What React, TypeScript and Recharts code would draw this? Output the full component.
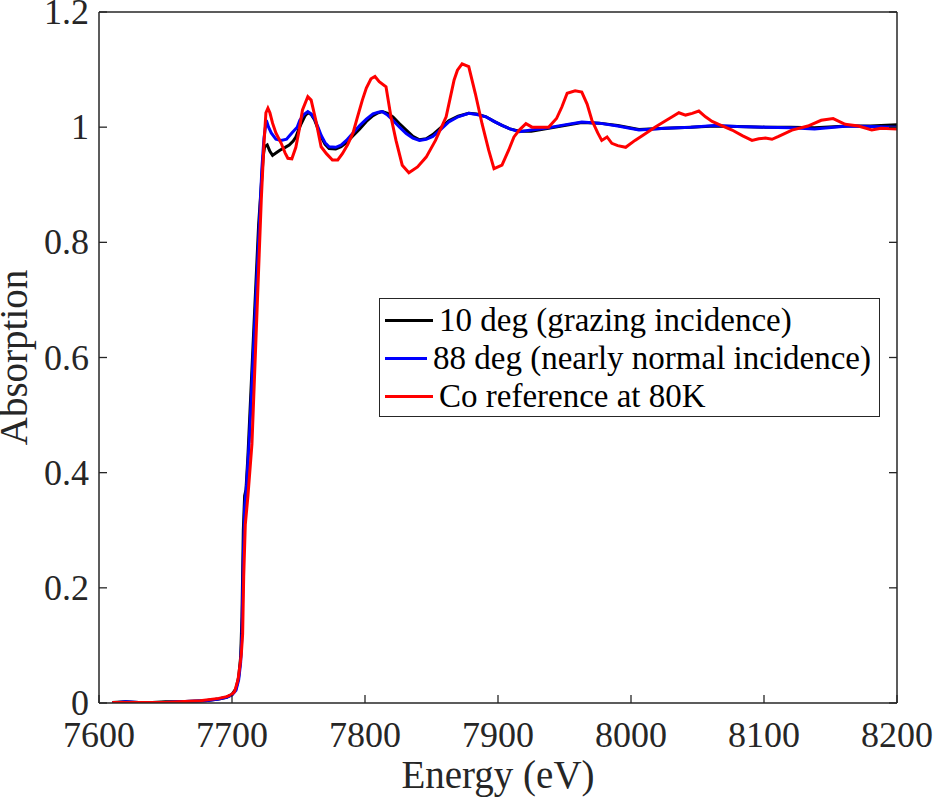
import React from 'react';
import { LineChart, Line, XAxis, YAxis, Legend, Label } from 'recharts';

const energyTicks = [7600, 7700, 7800, 7900, 8000, 8100, 8200];
const absorptionTicks = [0, 0.2, 0.4, 0.6, 0.8, 1, 1.2];

// [energy (eV), absorption]
const grazing10: [number, number][] = [
  [7610, 0.001], [7620, 0.002], [7630, 0.001], [7640, 0.001], [7650, 0.002], [7660, 0.002],
  [7670, 0.003], [7680, 0.004], [7690, 0.007], [7696, 0.01], [7700, 0.015], [7703, 0.025],
  [7705, 0.045], [7706.5, 0.08], [7707.5, 0.15], [7708.5, 0.3], [7709.5, 0.36], [7710.5, 0.37],
  [7712, 0.43], [7716, 0.63], [7720, 0.83], [7723.5, 0.95], [7724.5, 0.966], [7726.5, 0.969],
  [7728.5, 0.958], [7730.5, 0.951], [7733, 0.955], [7736, 0.96], [7740, 0.965], [7743, 0.969],
  [7746, 0.976], [7748, 0.983], [7750, 0.995], [7752, 1.006], [7755, 1.02], [7757, 1.025],
  [7759.5, 1.022], [7762, 1.013], [7765, 0.995], [7767, 0.983], [7770, 0.97], [7773, 0.963],
  [7778, 0.962], [7782, 0.966], [7786, 0.973], [7791, 0.985], [7796, 0.997], [7801, 1.01],
  [7806, 1.02], [7810, 1.025], [7813, 1.027], [7817, 1.024], [7821, 1.018], [7826, 1.006],
  [7831, 0.995], [7836, 0.984], [7841, 0.978], [7846, 0.98], [7851, 0.987], [7857, 0.999],
  [7863, 1.011], [7870, 1.019], [7878, 1.024], [7884, 1.023], [7891, 1.018], [7897, 1.01],
  [7903, 1.003], [7909, 0.997], [7916, 0.993], [7925, 0.993], [7938, 0.998], [7950, 1.003],
  [7963, 1.008], [7976, 1.007], [7990, 1.003], [8006, 0.996], [8026, 0.998], [8045, 1.0],
  [8063, 1.002], [8080, 1.001], [8101, 1.0], [8120, 1.0], [8138, 0.999], [8163, 1.002],
  [8180, 1.002], [8200, 1.004],
];

const normal88: [number, number][] = [
  [7610, 0.0], [7620, 0.002], [7630, 0.001], [7640, 0.001], [7650, 0.001], [7660, 0.002],
  [7670, 0.003], [7680, 0.004], [7690, 0.007], [7696, 0.01], [7700, 0.014], [7703, 0.022],
  [7705, 0.04], [7706.5, 0.07], [7707.5, 0.12], [7708.5, 0.25], [7709.5, 0.34], [7711, 0.38],
  [7713, 0.457], [7720.8, 0.844], [7722.5, 0.93], [7724, 0.98], [7725.8, 1.012], [7727.5, 1.0],
  [7729.5, 0.99], [7733, 0.979], [7737, 0.977], [7741, 0.979], [7745, 0.99], [7749, 1.0],
  [7751, 1.012], [7754, 1.022], [7757, 1.027], [7759.5, 1.023], [7762, 1.015], [7765, 0.998],
  [7767, 0.986], [7770, 0.973], [7773, 0.966], [7778, 0.965], [7782, 0.969], [7786, 0.977],
  [7791, 0.99], [7796, 1.003], [7801, 1.014], [7806, 1.023], [7810, 1.026], [7813, 1.027],
  [7817, 1.021], [7821, 1.012], [7826, 1.0], [7831, 0.989], [7836, 0.981], [7841, 0.977],
  [7846, 0.979], [7851, 0.984], [7857, 0.996], [7863, 1.009], [7870, 1.018], [7878, 1.024],
  [7884, 1.022], [7891, 1.018], [7897, 1.01], [7903, 1.003], [7909, 0.997], [7916, 0.992],
  [7925, 0.995], [7938, 0.999], [7950, 1.004], [7963, 1.009], [7976, 1.007], [7990, 1.002],
  [8006, 0.995], [8026, 0.998], [8045, 1.0], [8063, 1.003], [8080, 1.001], [8101, 1.0],
  [8120, 0.999], [8138, 0.997], [8163, 1.002], [8180, 1.001], [8200, 1.0],
];

const coRef80K: [number, number][] = [
  [7610, 0.001], [7630, 0.001], [7650, 0.001], [7660, 0.002], [7676, 0.004], [7690, 0.008],
  [7696, 0.011], [7700, 0.015], [7702, 0.02], [7704.5, 0.04], [7706, 0.065], [7707, 0.085],
  [7708, 0.12], [7708.8, 0.22], [7710, 0.31], [7712, 0.36], [7715, 0.45], [7722, 0.873],
  [7724, 0.97], [7725.5, 1.025], [7727, 1.033], [7728.5, 1.025], [7730.5, 1.007], [7733, 0.99],
  [7737, 0.972], [7740, 0.955], [7742, 0.946], [7745, 0.945], [7748, 0.965], [7750.5, 0.995],
  [7753, 1.03], [7757, 1.053], [7759.5, 1.047], [7763, 1.012], [7767, 0.966], [7771, 0.954],
  [7775.5, 0.943], [7779.5, 0.943], [7783, 0.954], [7787, 0.97], [7791, 0.99], [7794, 1.015],
  [7798, 1.047], [7801, 1.068], [7804.5, 1.084], [7807.5, 1.088], [7810.7, 1.079], [7815.8, 1.07],
  [7819.5, 1.018], [7823.3, 0.977], [7828, 0.934], [7833, 0.921], [7839.5, 0.931], [7846, 0.948],
  [7853, 0.977], [7861, 1.018], [7864, 1.05], [7867, 1.082], [7869.5, 1.099], [7873, 1.11],
  [7878, 1.105], [7883, 1.058], [7888, 1.006], [7893, 0.96], [7897, 0.928], [7903, 0.934],
  [7908, 0.96], [7912, 0.983], [7916, 0.995], [7921, 1.006], [7925.6, 1.0], [7932, 1.0],
  [7938, 1.0], [7944, 1.015], [7948, 1.035], [7952, 1.059], [7958, 1.063], [7963, 1.061],
  [7967, 1.04], [7970.6, 1.012], [7975, 0.99], [7978, 0.977], [7982, 0.983], [7985.6, 0.972],
  [7990, 0.968], [7996, 0.965], [8003, 0.977], [8011, 0.989], [8018, 1.0], [8026, 1.011],
  [8031, 1.018], [8036, 1.025], [8041, 1.021], [8046, 1.024], [8051, 1.028], [8056, 1.018],
  [8061, 1.01], [8066, 1.005], [8076, 0.995], [8084, 0.985], [8091, 0.977], [8096, 0.98],
  [8101, 0.981], [8106, 0.979], [8111, 0.984], [8121, 0.995], [8133, 1.002], [8143, 1.012],
  [8152, 1.015], [8161, 1.005], [8171, 1.002], [8181, 0.995], [8188, 0.998], [8200, 0.997],
];

const series = [
  { name: '10 deg (grazing incidence)', color: '#000000', points: grazing10 },
  { name: '88 deg (nearly normal incidence)', color: '#0000ff', points: normal88 },
  { name: 'Co reference at 80K', color: '#ff0000', points: coRef80K },
];

const FONT = '"Liberation Serif", "Times New Roman", serif';
const AXIS = '#262626';
const TICK_LEN = 8;

const toRows = (pts: [number, number][]) => pts.map(([e, a]) => ({ e, a }));

// MATLAB-style inward ticks: tickSize/tickMargin are 0, so x/y sit on the axis line
const BottomTick = ({ x, y, payload }: any) => (
  <g>
    <line x1={x} y1={y} x2={x} y2={y - TICK_LEN} stroke={AXIS} strokeWidth={1.3} />
    <text x={x} y={y + 44} textAnchor="middle" fontFamily={FONT} fontSize={36} fill={AXIS}>
      {payload.value}
    </text>
  </g>
);

const LeftTick = ({ x, y, payload }: any) => (
  <g>
    <line x1={x} y1={y} x2={x + TICK_LEN} y2={y} stroke={AXIS} strokeWidth={1.3} />
    <text x={x - 10} y={y + 12} textAnchor="end" fontFamily={FONT} fontSize={36} fill={AXIS}>
      {String(+Number(payload.value).toFixed(1))}
    </text>
  </g>
);

const TopTick = ({ x, y }: any) => (
  <line x1={x} y1={y} x2={x} y2={y + TICK_LEN} stroke={AXIS} strokeWidth={1.3} />
);

const RightTick = ({ x, y }: any) => (
  <line x1={x} y1={y} x2={x - TICK_LEN} y2={y} stroke={AXIS} strokeWidth={1.3} />
);

const LegendBox = (props: any) => {
  const { payload } = props;
  return (
    <div
      style={{
        border: `1px solid ${AXIS}`,
        background: '#fff',
        padding: '2px 8px 1px 5px',
        fontFamily: FONT,
        fontSize: 33,
        color: '#000',
        width: 486,
        boxSizing: 'content-box',
      }}
    >
      {payload.map((p: any) => (
        <div key={p.value} style={{ display: 'flex', alignItems: 'center', height: 38, lineHeight: '38px', whiteSpace: 'nowrap' }}>
          <div style={{ width: 48, height: 3, background: p.color, marginRight: 6 }} />
          <span>{p.value}</span>
        </div>
      ))}
    </div>
  );
};

export default function App() {
  return (
    <div style={{ position: 'absolute', left: 0, top: 0, width: 934, height: 803, background: '#fff' }}>
      <LineChart width={934} height={803} margin={{ top: 11, right: 36, bottom: 0, left: 0 }}>
        <XAxis
          xAxisId="bottom"
          dataKey="e"
          type="number"
          domain={[7600, 8200]}
          ticks={energyTicks}
          allowDataOverflow
          height={100}
          tick={<BottomTick />}
          tickLine={false}
          tickSize={0}
          tickMargin={0}
          stroke={AXIS}
          strokeWidth={1.5}
        >
          <Label
            value="Energy (eV)"
            position="insideBottom"
            offset={15}
            style={{ fontFamily: FONT, fontSize: 39, fill: AXIS }}
          />
        </XAxis>
        <XAxis
          xAxisId="top"
          orientation="top"
          type="number"
          domain={[7600, 8200]}
          ticks={energyTicks}
          allowDataOverflow
          height={1}
          tick={<TopTick />}
          tickLine={false}
          tickSize={0}
          tickMargin={0}
          stroke={AXIS}
          strokeWidth={1.5}
        />
        <YAxis
          yAxisId="left"
          type="number"
          domain={[0, 1.2]}
          ticks={absorptionTicks}
          allowDataOverflow
          width={99}
          tick={<LeftTick />}
          tickLine={false}
          tickSize={0}
          tickMargin={0}
          stroke={AXIS}
          strokeWidth={1.5}
        >
          <Label
            value="Absorption"
            angle={-90}
            position="insideLeft"
            offset={13}
            style={{ fontFamily: FONT, fontSize: 39, fill: AXIS, textAnchor: 'middle' }}
          />
        </YAxis>
        <YAxis
          yAxisId="right"
          orientation="right"
          type="number"
          domain={[0, 1.2]}
          ticks={absorptionTicks}
          allowDataOverflow
          width={1}
          tick={<RightTick />}
          tickLine={false}
          tickSize={0}
          tickMargin={0}
          stroke={AXIS}
          strokeWidth={1.5}
        />
        <Legend
          layout="vertical"
          align="center"
          verticalAlign="middle"
          content={LegendBox}
          wrapperStyle={{ left: 379, top: 298, width: 'auto' }}
        />
        {series.map((s) => (
          <Line
            key={s.name}
            xAxisId="bottom"
            yAxisId="left"
            data={toRows(s.points)}
            dataKey="a"
            name={s.name}
            type="linear"
            stroke={s.color}
            strokeWidth={3}
            dot={false}
            activeDot={false}
            isAnimationActive={false}
          />
        ))}
      </LineChart>
    </div>
  );
}
